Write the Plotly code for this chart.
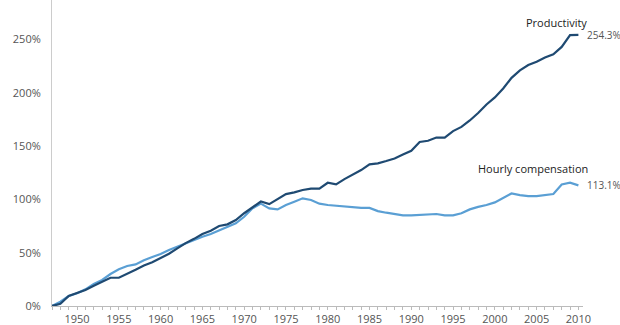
import plotly.graph_objects as go

years = list(range(1947, 2011))

productivity = [0, 2, 9.4, 12, 15, 19, 23, 26.5, 26.5, 30,
                34, 38, 41, 45, 49, 54, 59, 63, 67.5, 70.6,
                75, 76.6, 80.6, 87, 92.5, 98, 95.6, 100.3, 105, 106.6,
                108.8, 110, 110, 115.6, 114, 119, 123.4, 127.5, 132.8, 133.8,
                136, 138.4, 142, 145.6, 153.8, 155, 158, 158, 164, 168,
                174, 181, 189, 195.6, 204, 214, 221, 226, 229, 233,
                236, 243, 254, 254.3]

compensation = [0, 4, 9.4, 12, 15.6, 20.6, 24.4, 30, 34.4, 37.5,
                39, 43, 46, 48.7, 52.5, 55.6, 59, 62, 65, 67.5,
                71, 74.4, 77.5, 83.7, 91.6, 96, 91.6, 90.6, 94.7, 97.8,
                101, 99.4, 96, 94.7, 94, 94, 93, 92, 92, 89,
                87.5, 86.6, 85, 85, 85.3, 85.6, 86.3, 85, 85, 87,
                90.6, 93, 94.7, 97.2, 101.6, 105.6, 104, 103, 103, 104,
                105, 114, 115.6, 113.1]

ytick_vals = [0, 50, 100, 150, 200, 250]
ytick_text = ["0%", "50%", "100%", "150%", "200%", "250%"]
xtick_vals = [1950, 1955, 1960, 1965, 1970, 1975, 1980, 1985, 1990, 1995, 2000, 2005, 2010]

dark = "#1f4a72"
light = "#5a9fd4"
gray_text = "#555555"
font_family = "Open Sans, Noto Sans, sans-serif"

fig = go.Figure()
fig.add_trace(go.Scatter(x=years, y=compensation, mode="lines",
                         line=dict(color=light, width=2.2), name="Hourly compensation",
                         hoverinfo="skip"))
fig.add_trace(go.Scatter(x=years, y=productivity, mode="lines",
                         line=dict(color=dark, width=2.2), name="Productivity",
                         hoverinfo="skip"))

fig.add_annotation(x=years[-1], y=productivity[-1], text="Productivity",
                   showarrow=False, xref="x", yref="y", xanchor="center", yanchor="bottom",
                   xshift=-22, yshift=3,
                   font=dict(family=font_family, size=11, color="#222222"))
fig.add_annotation(x=years[-1], y=productivity[-1], text=f"{productivity[-1]}%",
                   showarrow=False, xref="x", yref="y", xanchor="left", yanchor="middle",
                   xshift=7, font=dict(family=font_family, size=10, color=gray_text))
fig.add_annotation(x=years[-1], y=compensation[-1], text="Hourly compensation",
                   showarrow=False, xref="x", yref="y", xanchor="center", yanchor="bottom",
                   xshift=-45, yshift=7,
                   font=dict(family=font_family, size=11, color="#222222"))
fig.add_annotation(x=years[-1], y=compensation[-1], text=f"{compensation[-1]}%",
                   showarrow=False, xref="x", yref="y", xanchor="left", yanchor="middle",
                   xshift=7, font=dict(family=font_family, size=10, color=gray_text))

fig.update_layout(
    width=620, height=325,
    margin=dict(l=52, r=37, t=0, b=19),
    paper_bgcolor="white", plot_bgcolor="white",
    showlegend=False,
    font=dict(family=font_family, size=11, color=gray_text),
    xaxis=dict(range=[1947, 2010.55], tickvals=xtick_vals,
               showgrid=False, zeroline=False,
               showline=True, linecolor="#bbbbbb", linewidth=1,
               ticks="outside", ticklen=3, tickcolor="#bbbbbb",
               minor=dict(dtick=1, ticks="outside", ticklen=3, tickcolor="#bbbbbb", showgrid=False),
               tickfont=dict(family=font_family, size=11, color=gray_text)),
    yaxis=dict(range=[0, 287], tickvals=ytick_vals, ticktext=ytick_text,
               showgrid=False, zeroline=False,
               showline=True, linecolor="#cccccc", linewidth=1,
               ticks="", ticklabelstandoff=8,
               tickfont=dict(family=font_family, size=11, color=gray_text)),
)

fig.write_html("out.html")
